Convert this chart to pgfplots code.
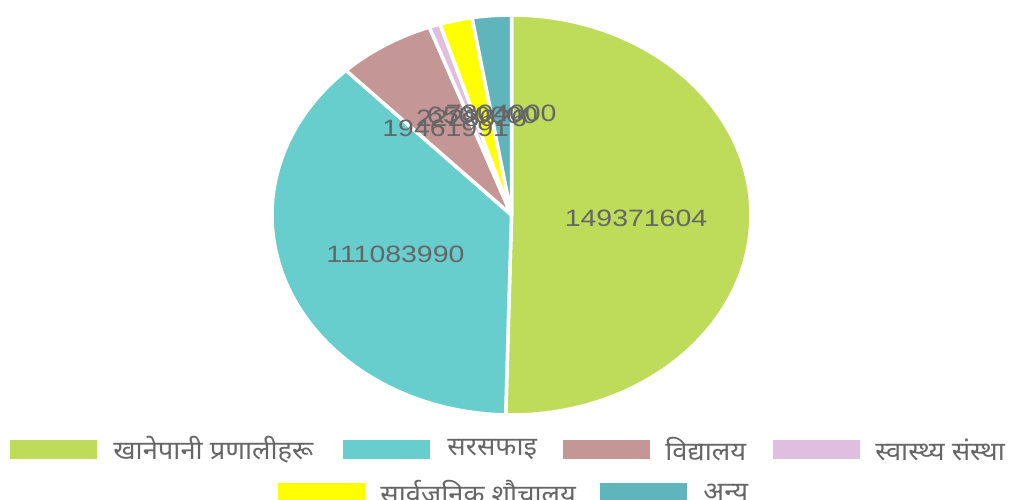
\documentclass[border=0pt]{standalone}
\usepackage{fontspec}
\usepackage{pgfplots}
\usepackage{pgfplotstable}
\pgfplotsset{compat=1.18}
\newfontfamily\devfont[Script=Devanagari,FakeStretch=1.05]{Noto Sans}
\newfontfamily\numfont[FakeStretch=1.2]{Liberation Sans}

\definecolor{cA}{RGB}{190,220,90}
\definecolor{cB}{RGB}{103,206,205}
\definecolor{cC}{RGB}{196,150,150}
\definecolor{cD}{RGB}{224,190,224}
\definecolor{cE}{RGB}{255,255,0}
\definecolor{cF}{RGB}{96,180,188}
\definecolor{txt}{RGB}{102,102,102}

\pgfplotstableread{
value
149371604
111083990
19461991
2228626
6500000
7804000
}\piedata

\pgfplotstablegetelem{0}{value}\of\piedata \edef\vA{\pgfplotsretval}
\pgfplotstablegetelem{1}{value}\of\piedata \edef\vB{\pgfplotsretval}
\pgfplotstablegetelem{2}{value}\of\piedata \edef\vC{\pgfplotsretval}
\pgfplotstablegetelem{3}{value}\of\piedata \edef\vD{\pgfplotsretval}
\pgfplotstablegetelem{4}{value}\of\piedata \edef\vE{\pgfplotsretval}
\pgfplotstablegetelem{5}{value}\of\piedata \edef\vF{\pgfplotsretval}
\edef\tot{\fpeval{\vA+\vB+\vC+\vD+\vE+\vF}}
\edef\eA{\fpeval{360*\vA/\tot}}
\edef\eB{\fpeval{\eA+360*\vB/\tot}}
\edef\eC{\fpeval{\eB+360*\vC/\tot}}
\edef\eD{\fpeval{\eC+360*\vD/\tot}}
\edef\eE{\fpeval{\eD+360*\vE/\tot}}
\edef\eF{360}
% label positions
\def\cx{511.5}\def\cy{215}\def\rx{239.5}\def\ry{200}\def\lr{0.52}
\edef\lxA{\fpeval{\cx+\lr*\rx*sind((0+\eA)/2)}}\edef\lyA{\fpeval{\cy-\lr*\ry*cosd((0+\eA)/2)}}
\edef\lxB{\fpeval{\cx+\lr*\rx*sind((\eA+\eB)/2)}}\edef\lyB{\fpeval{\cy-\lr*\ry*cosd((\eA+\eB)/2)}}
\edef\lxC{\fpeval{\cx+\lr*\rx*sind((\eB+\eC)/2)}}\edef\lyC{\fpeval{\cy-\lr*\ry*cosd((\eB+\eC)/2)}}
\edef\lxD{\fpeval{\cx+\lr*\rx*sind((\eC+\eD)/2)}}\edef\lyD{\fpeval{\cy-\lr*\ry*cosd((\eC+\eD)/2)}}
\edef\lxE{\fpeval{\cx+\lr*\rx*sind((\eD+\eE)/2)}}\edef\lyE{\fpeval{\cy-\lr*\ry*cosd((\eD+\eE)/2)}}
\edef\lxF{\fpeval{\cx+\lr*\rx*sind((\eE+\eF)/2)}}\edef\lyF{\fpeval{\cy-\lr*\ry*cosd((\eE+\eF)/2)}}

\newcommand\slice[3]{%
  \addplot[fill=#1, draw=white, line width=1.75pt, line join=round,
    domain=#2:#3, samples=120, variable=\t]
    ({\cx+\rx*sin(\t)}, {\cy-\ry*cos(\t)}) -- (axis cs:\cx,\cy) -- cycle;}
\newcommand\vlabel[3]{%
  \node[text=txt, font=\numfont\fontsize{11.85}{14}\selectfont, anchor=center, inner sep=0pt]
    at (axis cs:#1,#2+2) {#3};}
\newcommand\legitem[5]{% x y color textx text
  \fill[#3] (axis cs:#1,#2-9.5) rectangle (axis cs:#1+87,#2+9.5);
  \node[text=txt, anchor=west, inner sep=0pt, font=\devfont\fontsize{13}{15}\selectfont]
    at (axis cs:#4,#2) {#5};}

\begin{document}
\begin{tikzpicture}
\path[use as bounding box] (0,0) rectangle (509pt,249.5pt);
\begin{axis}[
  at={(0,0)}, anchor=south west,
  scale only axis, width=509pt, height=249.5pt,
  xmin=0, xmax=1018, ymin=0, ymax=499, y dir=reverse,
  hide axis, clip=false]
\slice{cA}{0}{\eA}
\slice{cB}{\eA}{\eB}
\slice{cC}{\eB}{\eC}
\slice{cD}{\eC}{\eD}
\slice{cE}{\eD}{\eE}
\slice{cF}{\eE}{\eF}
\vlabel{\lxA}{\lyA}{\vA}
\vlabel{\lxB}{\lyB}{\vB}
\vlabel{\lxC}{\lyC}{\vC}
\vlabel{\lxD}{\lyD}{\vD}
\vlabel{\lxE}{\lyE}{\vE}
\vlabel{\lxF}{\lyF}{\vF}
\legitem{10}{449.5}{cA}{113}{खानेपानी प्रणालीहरू}
\legitem{343}{449.5}{cB}{447}{सरसफाइ}
\legitem{563}{449.5}{cC}{665}{विद्यालय}
\legitem{773}{449.5}{cD}{875}{स्वास्थ्य संस्था}
\legitem{278}{492.5}{cE}{380}{सार्वजनिक शौचालय}
\legitem{600}{492.5}{cF}{703}{अन्य}
\end{axis}
\end{tikzpicture}
\end{document}
